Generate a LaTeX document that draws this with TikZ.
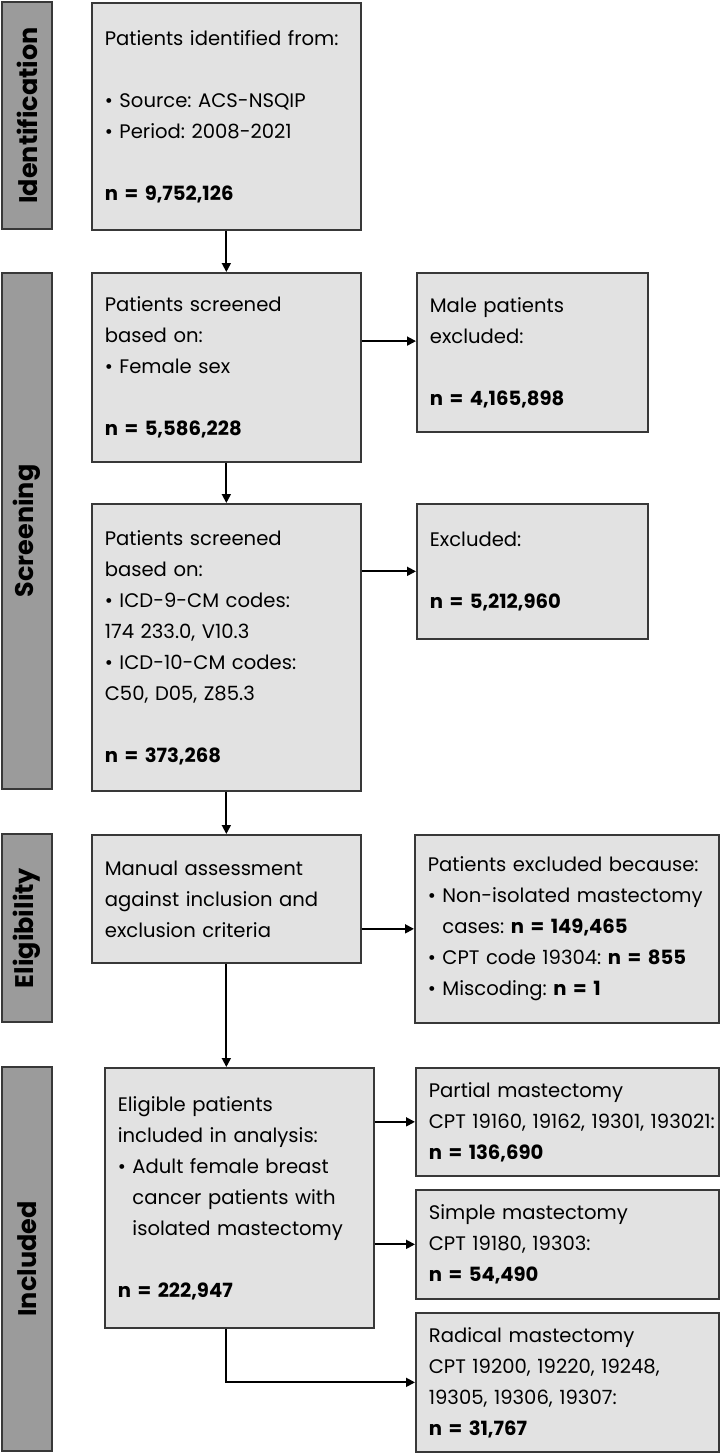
\documentclass[tikz,border=0pt]{standalone}
\usepackage{fontspec}
\setmainfont{Poppins}
\usetikzlibrary{arrows.meta,calc}
\definecolor{boxfill}{HTML}{E2E2E2}
\definecolor{sidefill}{HTML}{9B9B9B}
\definecolor{edge}{HTML}{383838}
\newcommand{\bul}{\textbullet\ }
\newcommand{\ind}{\phantom{\textbullet\ }}
\frenchspacing
\hyphenpenalty=10000
\exhyphenpenalty=10000
\begin{document}
\begin{tikzpicture}[x=1pt,y=-1pt,
  box/.style={draw=edge, fill=boxfill, line width=1.7pt, rectangle, anchor=north west,
    inner xsep=13pt, inner ysep=0pt, align=left,
    font=\fontsize{19.6}{31}\selectfont},
  side/.style={draw=edge, fill=sidefill, line width=1.7pt, rectangle, rotate=90,
    inner sep=0pt, minimum height=50pt, font=\fontsize{25.5}{30}\selectfont\bfseries},
  arr/.style={line width=1.8pt, draw=black, -{Triangle[length=9pt,width=9pt]}}]
\useasboundingbox (0,0) rectangle (720,1453);
\fill[white] (0,0) rectangle (720,1453);

% side bars
\node[side, minimum width=227pt] (s1) at (27,115.5) {Identification};
\node[side, minimum width=516pt] (s2) at (27,531) {Screening};
\node[side, minimum width=188pt] (s3) at (27,928) {Eligibility};
\node[side, minimum width=384pt] (s4) at (27,1259) {Included};

% boxes
\node[box, text width=243pt, minimum height=227pt] (b1) at (91,2)
  {Patients identified from:\\[31pt]
   \bul Source: ACS-NSQIP\\
   \bul Period: 2008-2021\\[31pt]
   \textbf{n = 9,752,126}};
\node[box, text width=243pt, minimum height=189pt] (b2) at (91,272)
  {Patients screened\\
   based on:\\
   \bul Female sex\\[31pt]
   \textbf{n = 5,586,228}};
\node[box, text width=205pt, minimum height=159pt] (male) at (416,272)
  {Male patients\\
   excluded:\\[31pt]
   \textbf{n = 4,165,898}};
\node[box, text width=243pt, minimum height=287pt] (b3) at (91,503)
  {Patients screened\\
   based on:\\
   \bul ICD-9-CM codes:\\
   174 233.0, V10.3\\
   \bul ICD-10-CM codes:\\
   C50, D05, Z85.3\\[31pt]
   \textbf{n = 373,268}};
\node[box, text width=205pt, minimum height=135pt] (excl) at (416,503)
  {Excluded:\\[31pt]
   \textbf{n = 5,212,960}};
\node[box, text width=243pt, minimum height=128pt] (b4) at (91,834)
  {Manual assessment\\
   against inclusion and\\
   exclusion criteria};
\node[box, text width=278pt, minimum height=188pt] (pe) at (414,834)
  {\mbox{Patients excluded because:}\\
   \mbox{\bul Non-isolated mastectomy}\\
   \mbox{\ind cases: \textbf{n = 149,465}}\\
   \mbox{\bul CPT code 19304: \textbf{n = 855}}\\
   \bul Miscoding: \textbf{n = 1}};
\node[box, text width=243pt, minimum height=260pt] (b5) at (104,1067)
  {Eligible patients\\
   included in analysis:\\
   \bul Adult female breast\\
   \ind cancer patients with\\
   \mbox{\ind isolated mastectomy}\\[31pt]
   \textbf{n = 222,947}};
\node[box, text width=277pt, minimum height=108pt] (partial) at (415,1067)
  {Partial mastectomy\\
   \mbox{CPT 19160, 19162, 19301, 193021:}\\
   \textbf{n = 136,690}};
\node[box, text width=277pt, minimum height=109pt] (simple) at (415,1189)
  {Simple mastectomy\\
   CPT 19180, 19303:\\
   \textbf{n = 54,490}};
\node[box, text width=277pt, minimum height=139pt] (radical) at (415,1312)
  {Radical mastectomy\\
   \mbox{CPT 19200, 19220, 19248,}\\
   19305, 19306, 19307:\\
   \textbf{n = 31,767}};

% connectors
\coordinate (maleIn) at ($(male.north west)!0.43!(male.south west)$);
\draw[arr] (b1.south) -- (b2.north);
\draw[arr] (b2.east |- maleIn) -- (maleIn);
\draw[arr] (b2.south) -- (b3.north);
\draw[arr] (b3.east |- excl.west) -- (excl.west);
\draw[arr] (b3.south) -- (b4.north);
\draw[arr] (b4.east |- pe.west) -- (pe.west);
\draw[arr] (b4.south) -- (b4.south |- b5.north);
\draw[arr] (b5.east |- partial.west) -- (partial.west);
\draw[arr] (b5.east |- simple.west) -- (simple.west);
\draw[arr] (b4.south |- b5.south) |- (radical.west);
\end{tikzpicture}
\end{document}
